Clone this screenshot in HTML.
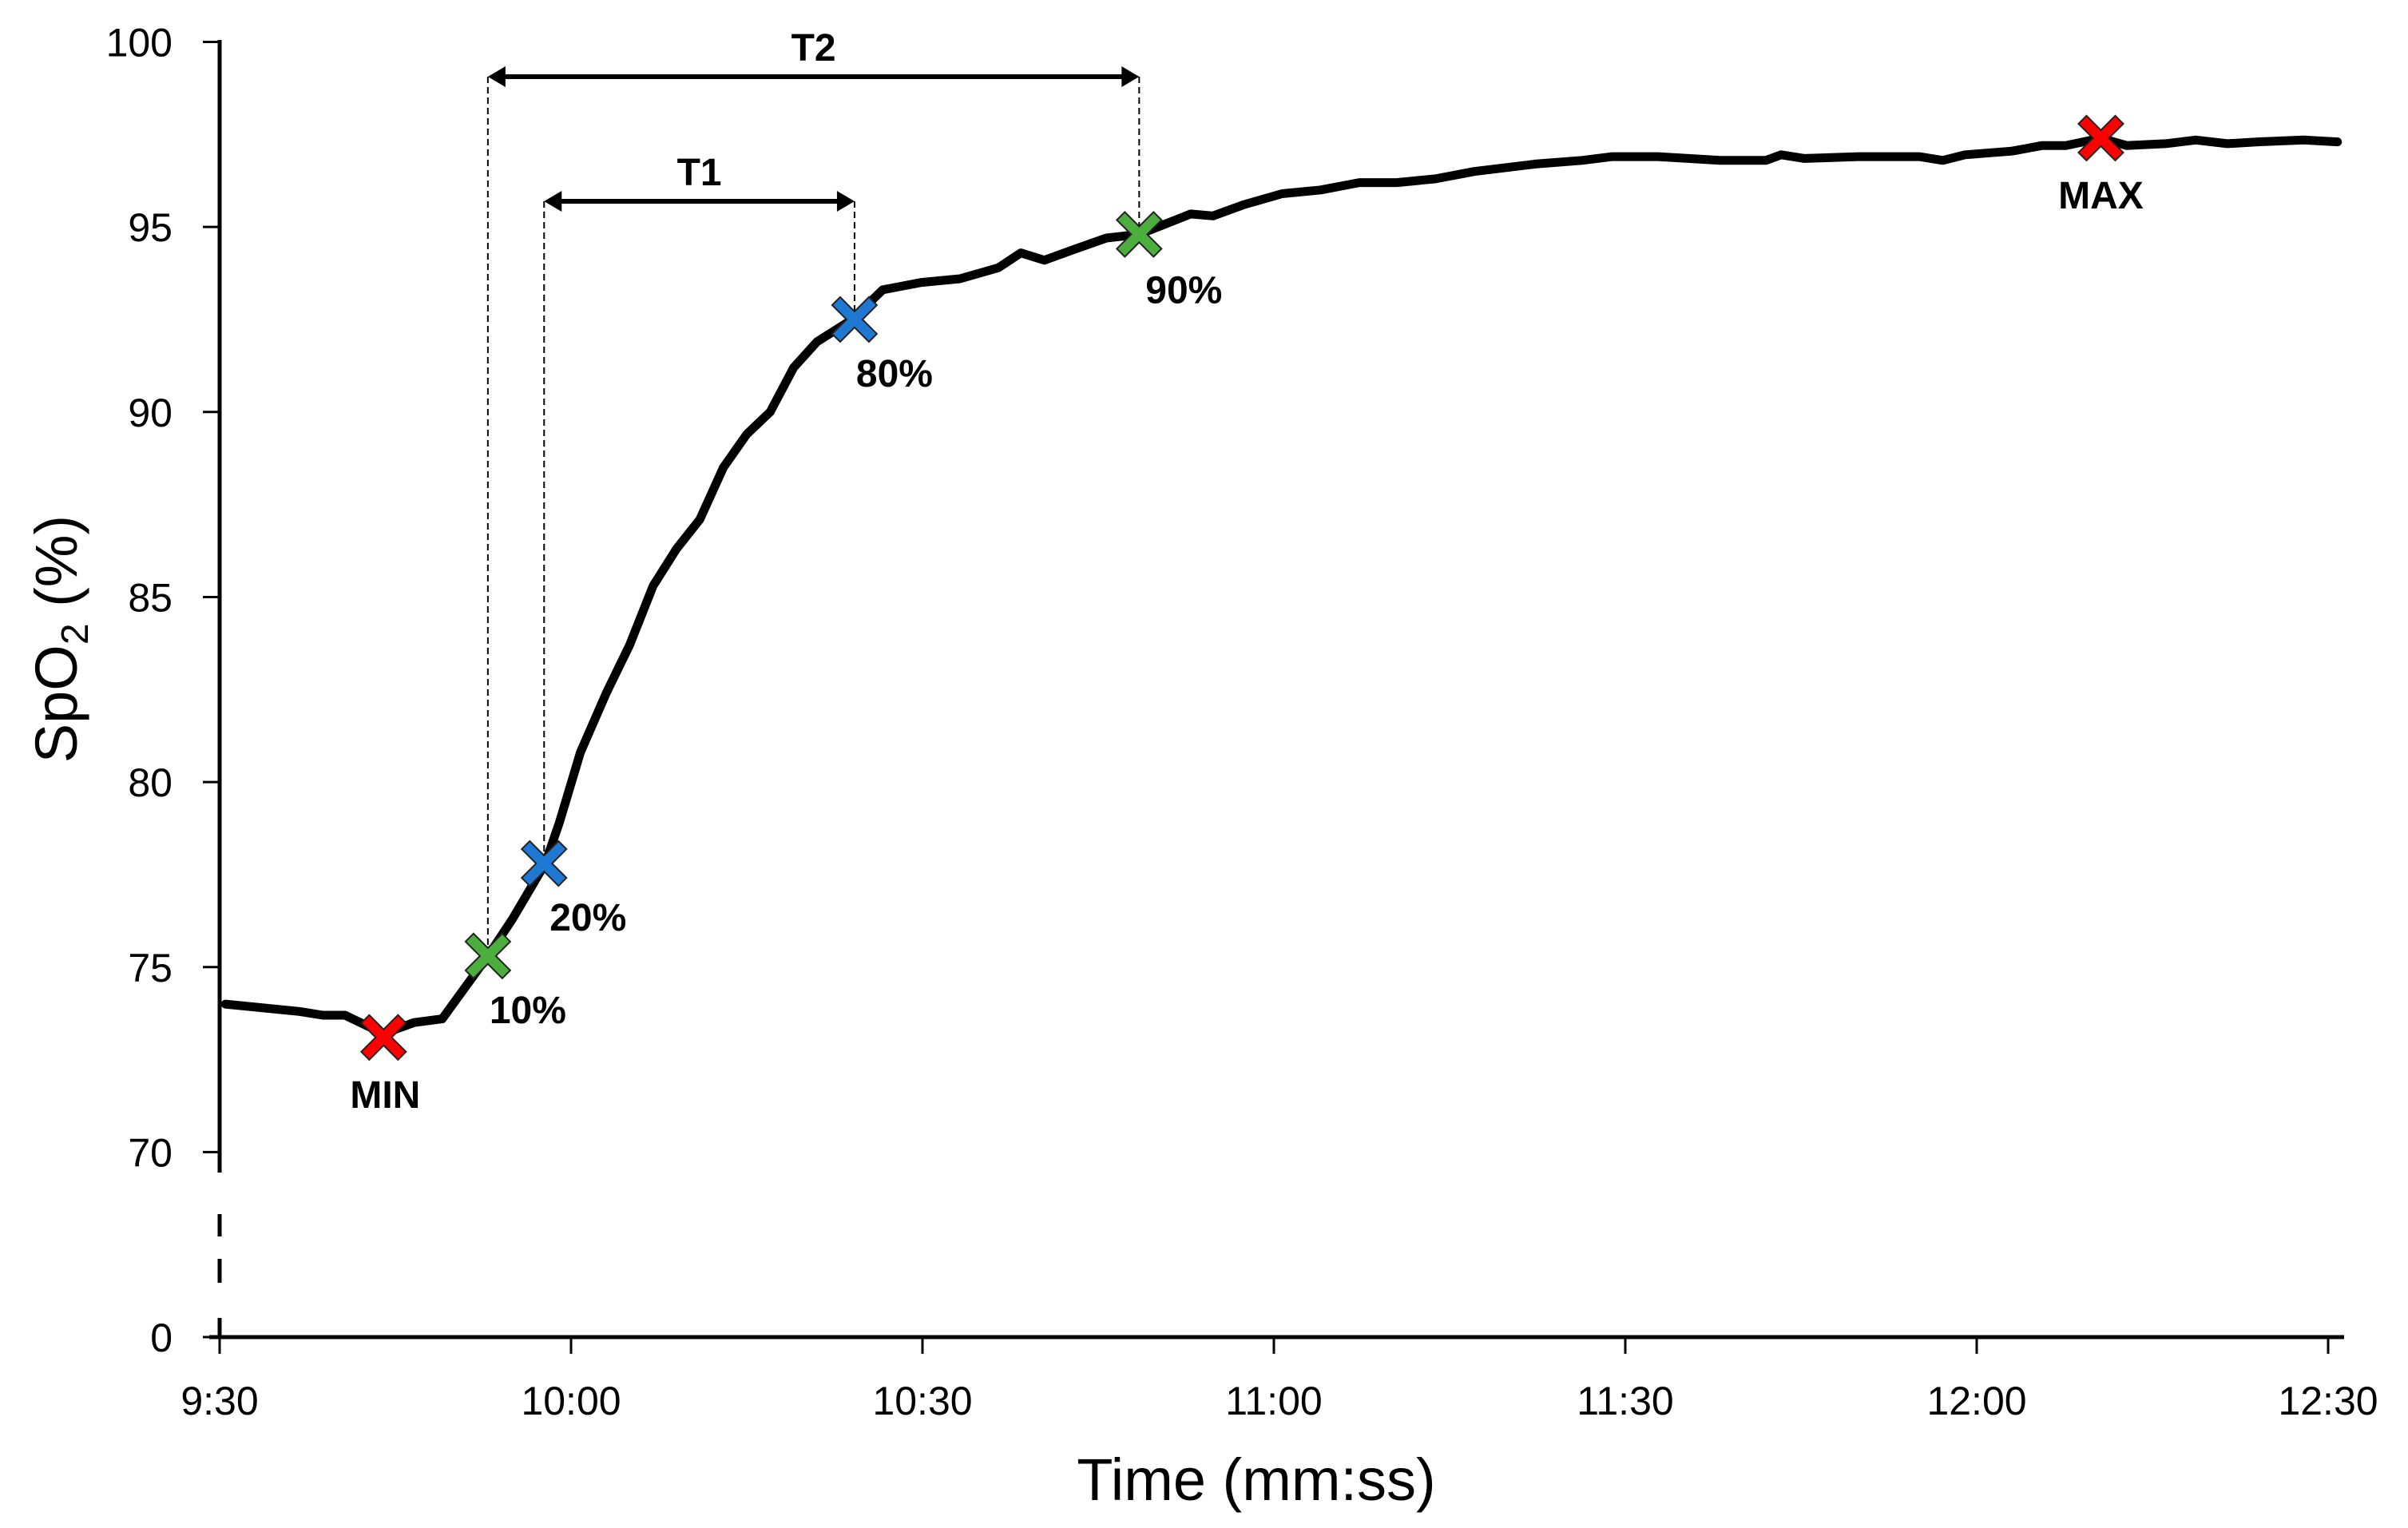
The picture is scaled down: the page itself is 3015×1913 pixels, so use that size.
<!DOCTYPE html>
<html><head><meta charset="utf-8"><style>
html,body{margin:0;padding:0;background:#fff}
svg{display:block;font-family:"Liberation Sans",sans-serif}
</style></head><body>
<svg id="chart" width="3015" height="1913" viewBox="0 0 3015 1913" xmlns="http://www.w3.org/2000/svg"></svg>
<script>
// data
const times = [0.5,6.8,8.8,10.7,14,16.6,19,22.9,25,27.8,29,30.8,33,35,37,39,41,43,45,47,49,51,54,56.6,59.9,63.2,66.5,68.4,70.4,73,75.7,78.5,80.9,82.9,84.8,87.4,90.7,94,97.3,100.5,103.8,107.1,112.3,116.3,118.9,122.8,128.1,132,133.3,135.3,139.9,145.1,147.1,149,153,155.6,157.6,160.6,162.8,166.1,168.7,171.4,174,177.9,180.8];
const spo2 = [74.0,73.8,73.7,73.7,73.2,73.5,73.6,75.3,76.3,77.8,78.9,80.8,82.4,83.7,85.3,86.3,87.1,88.5,89.4,90.0,91.2,91.9,92.5,93.3,93.5,93.6,93.9,94.3,94.1,94.4,94.7,94.8,95.1,95.35,95.3,95.6,95.9,96.0,96.2,96.2,96.3,96.5,96.7,96.8,96.9,96.9,96.8,96.8,96.95,96.85,96.9,96.9,96.8,96.95,97.05,97.2,97.2,97.4,97.2,97.25,97.35,97.25,97.3,97.35,97.3];
const markerLabels = ["MIN","10%","20%","80%","90%","MAX"];
const markerTimes = [14,22.9,27.7,54.2,78.5,160.6];
const markerValues = [73.1,75.3,77.8,92.5,94.8,97.4];
const markerColors = ["#ff0000","#4cae3c","#1f78d1","#1f78d1","#4cae3c","#ff0000"];
const yTicks = [100,95,90,85,80,75,70,0];
const xTickSeconds = [0,30,60,90,120,150,180];
const xTickLabels = ["9:30","10:00","10:30","11:00","11:30","12:00","12:30"];

const NS="http://www.w3.org/2000/svg";
const svg=document.getElementById('chart');
function xs(t){return 275+t*(2640/180);}
function ys(v){return v<=0?1674:52.5+(100-v)*46.33;}
function mk(tag,attrs,parent){const e=document.createElementNS(NS,tag);for(const k in attrs)e.setAttribute(k,attrs[k]);(parent||svg).appendChild(e);return e;}

// y axis
let a=mk('line',{x1:275,y1:50,x2:275,y2:1468,stroke:'#000','stroke-width':5});


[[1520,1548],[1576,1606],[1650,1676]].forEach(s=>{
  const d=mk('line',{x1:275,y1:s[0],x2:275,y2:s[1],stroke:'#000','stroke-width':5});
  
  
});
yTicks.forEach(v=>{
  const t=mk('line',{x1:254,y1:ys(v),x2:275,y2:ys(v),stroke:'#000','stroke-width':3});
  
  
  const l=mk('text',{x:216,y:ys(v)+18,'text-anchor':'end','font-size':50});
  l.textContent=String(v);
  
  
});
// x axis
a=mk('line',{x1:262,y1:1674,x2:2935,y2:1674,stroke:'#000','stroke-width':5});


xTickSeconds.forEach((s,i)=>{
  const t=mk('line',{x1:xs(s),y1:1674,x2:xs(s),y2:1695,stroke:'#000','stroke-width':3});
  
  
  const l=mk('text',{x:xs(s),y:1771,'text-anchor':'middle','font-size':50});
  l.textContent=xTickLabels[i];
  
  
});
// titles
let tt=mk('text',{x:1573,y:1878,'text-anchor':'middle','font-size':74});
tt.textContent='Time (mm:ss)';


tt=mk('text',{transform:'translate(96,800) rotate(-90)','text-anchor':'middle','font-size':74});
tt.innerHTML='SpO<tspan font-size="48" dy="14">2</tspan><tspan dy="-14"> (%)</tspan>';



// interval annotations
function interval(i0,i1,y,label,name){
  [i0,i1].forEach(i=>{
    const d=mk('line',{x1:xs(markerTimes[i]),y1:y,x2:xs(markerTimes[i]),y2:ys(markerValues[i]),stroke:'#000','stroke-width':2,'stroke-dasharray':'8,5'});
    
    
  });
  const x0=xs(markerTimes[i0]),x1=xs(markerTimes[i1]);
  const g=mk('g',{});
  
  
  mk('line',{x1:x0+10,y1:y,x2:x1-10,y2:y,stroke:'#000','stroke-width':6},g);
  mk('polygon',{points:`${x0},${y} ${x0+22},${y-13} ${x0+22},${y+13}`,fill:'#000'},g);
  mk('polygon',{points:`${x1},${y} ${x1-22},${y-13} ${x1-22},${y+13}`,fill:'#000'},g);
  const l=mk('text',{x:(x0+x1)/2,y:y-20,'text-anchor':'middle','font-size':48,'font-weight':'bold'});
  l.textContent=label;
  
  
}
interval(1,4,96,'T2','t2');
interval(2,3,252,'T1','t1');

// series line
const p=mk('path',{d:times.map((t,i)=>(i?'L':'M')+xs(t).toFixed(1)+','+ys(spo2[i]).toFixed(1)).join(' '),fill:'none',stroke:'#000','stroke-width':11,'stroke-linejoin':'round','stroke-linecap':'round'});



// markers
const labelOff=[[2,88],[50,84],[55,84],[50,84],[56,86],[0,88]];
markerTimes.forEach((t,i)=>{
  const cx=xs(t),cy=ys(markerValues[i]);
  const s=10,L=28;
  const pts=[[-L,-L+s],[-L+s,-L],[0,-s],[L-s,-L],[L,-L+s],[s,0],[L,L-s],[L-s,L],[0,s],[-L+s,L],[-L,L-s],[-s,0]].map(q=>(cx+q[0])+','+(cy+q[1])).join(' ');
  const m=mk('polygon',{points:pts,fill:markerColors[i],stroke:'#222','stroke-width':2});
  
  
  const l=mk('text',{x:cx+labelOff[i][0],y:cy+labelOff[i][1],'text-anchor':'middle','font-size':48,'font-weight':'bold'});
  l.textContent=markerLabels[i];
  
  
});
</script>
</body></html>
